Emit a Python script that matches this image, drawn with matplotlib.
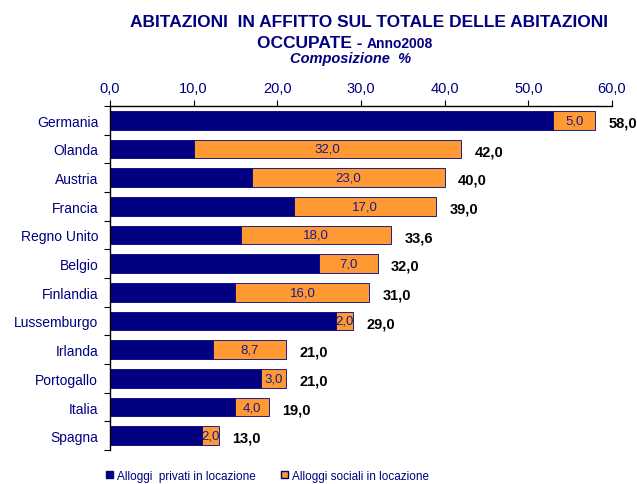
import matplotlib
matplotlib.use("Agg")
import matplotlib.pyplot as plt
import numpy as np

plt.rcParams['font.family'] = ['Liberation Sans', 'DejaVu Sans']

countries = ["Germania", "Olanda", "Austria", "Francia", "Regno Unito", "Belgio",
             "Finlandia", "Lussemburgo", "Irlanda", "Portogallo", "Italia", "Spagna"]
private = [53.0, 10.0, 17.0, 22.0, 15.6, 25.0, 15.0, 27.0, 12.3, 18.0, 15.0, 11.0]
social = [5.0, 32.0, 23.0, 17.0, 18.0, 7.0, 16.0, 2.0, 8.7, 3.0, 4.0, 2.0]
totals = [58.0, 42.0, 40.0, 39.0, 33.6, 32.0, 31.0, 29.0, 21.0, 21.0, 19.0, 13.0]
xticks = [0, 10, 20, 30, 40, 50, 60]

NAVY = '#000080'
ORANGE = '#FF9933'

fig = plt.figure(figsize=(6.37, 4.85), dpi=100)
ax = fig.add_axes([0.1727, 0.0701, 0.788, 0.7093])

y = np.arange(len(countries))
h = 0.66
ax.barh(y, private, height=h, color=NAVY, edgecolor=NAVY, linewidth=0.6)
ax.barh(y, social, left=private, height=h, color=ORANGE, edgecolor=NAVY, linewidth=0.6)

def fmt(v):
    return f"{v:.1f}".replace('.', ',')

for yi, p, s, t in zip(y, private, social, totals):
    ax.text(p + s / 2, yi, fmt(s), ha='center', va='center', fontsize=9.5, color='#1a1a8a')
    ax.text(t + 1.6, yi + 0.08, fmt(t), ha='left', va='center', fontsize=10.5, fontweight='bold', color='black')

ax.set_ylim(len(countries) - 0.5, -0.5)
ax.set_xlim(0, 60)
ax.set_yticks(np.arange(-0.5, len(countries), 1), minor=False)
ax.set_yticklabels([])
ax.set_yticks(y, minor=True)
ax.set_yticklabels(countries, minor=True)
ax.tick_params(axis='y', which='minor', length=0, labelsize=10, labelcolor=NAVY, pad=8.5)
ax.tick_params(axis='y', which='major', length=4, color='black', direction='out')

ax.xaxis.tick_top()
ax.set_xticks(xticks)
ax.set_xticklabels([fmt(v) for v in xticks])
ax.tick_params(axis='x', labelsize=10.5, labelcolor=NAVY, length=4, direction='out', pad=4)

ax.spines['right'].set_visible(False)
ax.spines['bottom'].set_visible(False)
for sp in ['top', 'left']:
    ax.spines[sp].set_linewidth(1.0)
    ax.spines[sp].set_color('black')

fig.text(0.58, 0.953, "ABITAZIONI  IN AFFITTO SUL TOTALE DELLE ABITAZIONI",
         ha='center', va='center', fontsize=12.5, fontweight='bold', color=NAVY)
fig.text(0.576, 0.911, "OCCUPATE - ", ha='right', va='center', fontsize=12.5, fontweight='bold', color=NAVY)
fig.text(0.576, 0.909, "Anno2008", ha='left', va='center', fontsize=10, fontweight='bold', color=NAVY)
fig.text(0.55, 0.879, "Composizione  %", ha='center', va='center', fontsize=10.5,
         fontweight='bold', style='italic', color=NAVY)

from matplotlib.patches import Patch
handles = [Patch(facecolor=NAVY, edgecolor=NAVY, label='Alloggi  privati in locazione'),
           Patch(facecolor=ORANGE, edgecolor=NAVY, label='Alloggi sociali in locazione')]
fig.legend(handles=handles, loc='center', bbox_to_anchor=(0.42, 0.017), ncol=2, frameon=False,
           fontsize=8.5, labelcolor=NAVY, handlelength=0.6, handleheight=0.6,
           handletextpad=0.3, columnspacing=2.2, borderpad=0)

fig.savefig('out.png', dpi=100)
